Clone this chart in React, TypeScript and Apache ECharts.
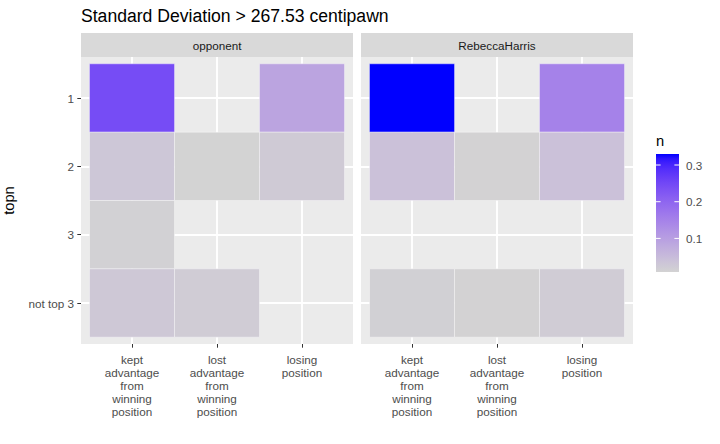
import React, { useEffect, useRef } from 'react';
import * as echarts from 'echarts';

const TITLE = 'Standard Deviation > 267.53 centipawn';
const facets = ['opponent', 'RebeccaHarris'];
const outcomes = [
  'kept advantage from winning position',
  'lost advantage from winning position',
  'losing position',
];
const topn = ['1', '2', '3', 'not top 3'];
// rows follow topn, columns follow outcomes; null = no tile
const opponentN = [
  [0.243, null, 0.09],
  [0.03, 0.0085, 0.024],
  [0.012, null, null],
  [0.028, 0.02, null],
];
const rebeccaN = [
  [0.33, null, 0.15],
  [0.04, 0.01, 0.04],
  [null, null, null],
  [0.014, 0.01, 0.02],
];
const facetValues = [opponentN, rebeccaN];
const legendTicks = [0.1, 0.2, 0.3];
const legendTitle = 'n';
const yTitle = 'topn';

const FONT = 'Liberation Sans, Arial, sans-serif';

// ---- Lab colour interpolation (ggplot2 style gradient) ----
const toLin = (c: number) => {
  c /= 255;
  return c <= 0.04045 ? c / 12.92 : Math.pow((c + 0.055) / 1.055, 2.4);
};
const toSrgb = (c: number) => {
  const v = c <= 0.0031308 ? 12.92 * c : 1.055 * Math.pow(c, 1 / 2.4) - 0.055;
  return Math.round(Math.max(0, Math.min(1, v)) * 255);
};
function rgbToLab(rgb: number[]) {
  const R = toLin(rgb[0]), G = toLin(rgb[1]), B = toLin(rgb[2]);
  const X = (0.4124 * R + 0.3576 * G + 0.1805 * B) / 0.95047;
  const Y = 0.2126 * R + 0.7152 * G + 0.0722 * B;
  const Z = (0.0193 * R + 0.1192 * G + 0.9505 * B) / 1.08883;
  const f = (t: number) => (t > 0.008856 ? Math.cbrt(t) : 7.787 * t + 16 / 116);
  const fx = f(X), fy = f(Y), fz = f(Z);
  return [116 * fy - 16, 500 * (fx - fy), 200 * (fy - fz)];
}
function labToHex(lab: number[]) {
  const fy = (lab[0] + 16) / 116, fx = fy + lab[1] / 500, fz = fy - lab[2] / 200;
  const inv = (t: number) => (t * t * t > 0.008856 ? t * t * t : (t - 16 / 116) / 7.787);
  const X = inv(fx) * 0.95047, Y = inv(fy), Z = inv(fz) * 1.08883;
  const R = 3.2406 * X - 1.5372 * Y - 0.4986 * Z;
  const G = -0.9689 * X + 1.8758 * Y + 0.0415 * Z;
  const B = 0.0557 * X - 0.204 * Y + 1.057 * Z;
  const h = (v: number) => toSrgb(v).toString(16).padStart(2, '0');
  return '#' + h(R) + h(G) + h(B);
}
const LOW = rgbToLab([211, 211, 211]);
const HIGH = rgbToLab([0, 0, 255]);
const NSTOPS = 24;
const gradientStops: string[] = [];
for (let i = 0; i <= NSTOPS; i++) {
  const t = i / NSTOPS;
  gradientStops.push(labToHex([0, 1, 2].map((k) => LOW[k] + (HIGH[k] - LOW[k]) * t)));
}

export default function App() {
  const ref = useRef<HTMLDivElement>(null);
  useEffect(() => {
    if (!ref.current) return;
    const chart = echarts.init(ref.current, undefined, { renderer: 'svg' });

    const all: number[] = [];
    facetValues.forEach((m) => m.forEach((row) => row.forEach((v) => { if (v != null) all.push(v); })));
    const nMin = Math.min(...all);
    const nMax = Math.max(...all);

    const gridTop = 57, gridH = 287, gridW = 272;
    const gridLefts = [81, 361];

    const grids = gridLefts.map((l) => ({
      left: l, top: gridTop, width: gridW, height: gridH,
      show: true, backgroundColor: '#ebebeb', borderWidth: 0,
    }));

    const xVals = outcomes.map((_, i) => i + 1);
    const yVals = topn.map((_, i) => i + 1);

    const xAxes = facets.map((_, i) => ({
      type: 'value', gridIndex: i, min: 0.4, max: 3.6,
      axisLine: { show: false },
      axisTick: { show: true, length: 3.7, customValues: xVals, lineStyle: { color: '#333333', width: 1 } },
      axisLabel: {
        customValues: xVals,
        formatter: (v: number) => outcomes[Math.round(v) - 1].replace(/ /g, '\n'),
        color: '#4d4d4d', fontSize: 11.7, lineHeight: 13, margin: 9, fontFamily: FONT,
      },
      splitLine: { show: true, lineStyle: { color: '#ffffff', width: 1.9 } },
    }));
    const yAxes = facets.map((_, i) => ({
      type: 'value', gridIndex: i, min: 0.4, max: 4.6, inverse: true,
      name: i === 0 ? yTitle : '',
      nameLocation: 'middle', nameGap: 65, nameRotate: 90,
      nameTextStyle: { color: '#000000', fontSize: 14.7, fontFamily: FONT },
      axisLine: { show: false },
      axisTick: { show: i === 0, length: 3.7, customValues: yVals, lineStyle: { color: '#333333', width: 1 } },
      axisLabel: {
        show: i === 0,
        customValues: yVals,
        formatter: (v: number) => topn[Math.round(v) - 1],
        color: '#4d4d4d', fontSize: 11.7, margin: 7, fontFamily: FONT,
      },
      splitLine: { show: true, lineStyle: { color: '#ffffff', width: 1.9 } },
    }));

    const series = facets.map((f, i) => {
      const data: number[][] = [];
      facetValues[i].forEach((row, r) => row.forEach((v, c) => {
        if (v != null) data.push([c + 1, r + 1, v]);
      }));
      return {
        type: 'custom', name: f, xAxisIndex: i, yAxisIndex: i,
        data, encode: { x: 0, y: 1 },
        renderItem: (params: any, api: any) => {
          const x = api.value(0), y = api.value(1);
          const p0 = api.coord([x - 0.5, y - 0.5]);
          const p1 = api.coord([x + 0.5, y + 0.5]);
          return {
            type: 'rect',
            shape: {
              x: Math.min(p0[0], p1[0]), y: Math.min(p0[1], p1[1]),
              width: Math.abs(p1[0] - p0[0]), height: Math.abs(p1[1] - p0[1]),
            },
            style: { fill: api.visual('color'), stroke: 'rgba(255,255,255,0.45)', lineWidth: 0.8 },
          };
        },
      };
    });

    // legend colour bar
    const barX = 656, barY = 154, barW = 23, barH = 118;
    const tickY = (t: number) => barY + ((nMax - t) / (nMax - nMin)) * barH;
    const legendEls: any[] = [
      {
        type: 'rect', shape: { x: barX, y: barY, width: barW, height: barH },
        style: {
          fill: new echarts.graphic.LinearGradient(0, 0, 0, 1,
            gradientStops.map((c, k) => ({ offset: 1 - k / NSTOPS, color: c })).reverse()),
        },
      },
      {
        type: 'text', style: { text: legendTitle, x: barX, y: 141, fill: '#000', fontSize: 14.7, fontFamily: FONT, verticalAlign: 'middle' },
      },
    ];
    legendTicks.forEach((t) => {
      const y = tickY(t);
      legendEls.push(
        { type: 'line', shape: { x1: barX, y1: y, x2: barX + 4.6, y2: y }, style: { stroke: '#fff', lineWidth: 1 } },
        { type: 'line', shape: { x1: barX + barW - 4.6, y1: y, x2: barX + barW, y2: y }, style: { stroke: '#fff', lineWidth: 1 } },
        { type: 'text', style: { text: String(t), x: 686, y, fill: '#4d4d4d', fontSize: 11.7, fontFamily: FONT, verticalAlign: 'middle' } },
      );
    });

    const strips: any[] = [];
    facets.forEach((f, i) => {
      strips.push(
        { type: 'rect', shape: { x: gridLefts[i], y: 33, width: gridW, height: 24 }, style: { fill: '#d9d9d9' } },
        { type: 'text', style: { text: f, x: gridLefts[i] + gridW / 2, y: 45, fill: '#1a1a1a', fontSize: 11.7, fontFamily: FONT, align: 'center', verticalAlign: 'middle' } },
      );
    });

    chart.setOption({
      animation: false,
      backgroundColor: '#ffffff',
      textStyle: { fontFamily: FONT },
      grid: grids,
      xAxis: xAxes,
      yAxis: yAxes,
      visualMap: {
        type: 'continuous', show: false, min: nMin, max: nMax, dimension: 2,
        seriesIndex: [0, 1], inRange: { color: gradientStops },
      },
      series,
      graphic: [
        { type: 'text', style: { text: TITLE, x: 81, y: 16, fill: '#000', fontSize: 17.6, fontFamily: FONT, verticalAlign: 'middle' } },
        ...strips,
        ...legendEls,
      ],
    });
    return () => chart.dispose();
  }, []);
  return <div ref={ref} style={{ position: 'fixed', left: 0, top: 0, width: 720, height: 444 }} />;
}
